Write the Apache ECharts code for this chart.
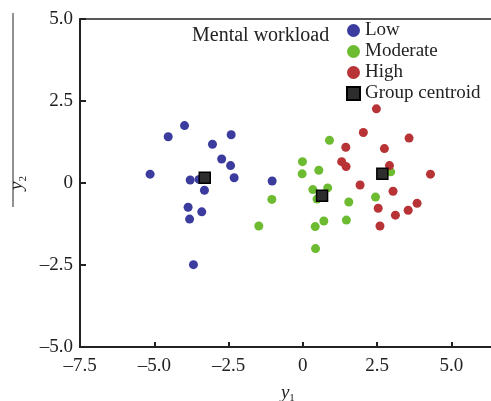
<!DOCTYPE html>
<html>
<head>
<meta charset="utf-8">
<script src="https://cdn.jsdelivr.net/npm/echarts@6/dist/echarts.min.js"></script>
<style>
html,body{margin:0;padding:0;background:#fff;}
#chart{width:491px;height:401px;}
</style>
</head>
<body>
<div id="chart"></div>
<script>
// values (y1, y2)
var lowPts = [[-5.14,0.27],[-4.53,1.41],[-3.98,1.75],[-3.04,1.18],[-2.41,1.47],[-2.73,0.73],
  [-2.43,0.53],[-2.31,0.16],[-3.79,0.09],[-3.49,0.11],[-3.31,-0.22],[-3.86,-0.74],
  [-3.81,-1.10],[-3.40,-0.88],[-3.68,-2.49],[-1.03,0.06]];
var moderatePts = [[0.90,1.30],[-0.01,0.65],[-0.02,0.28],[0.54,0.39],[0.34,-0.20],[0.84,-0.15],
  [0.48,-0.49],[-1.04,-0.50],[-1.48,-1.31],[1.55,-0.58],[2.45,-0.43],[0.71,-1.16],
  [0.42,-1.33],[1.47,-1.13],[0.43,-2.00],[2.96,0.34]];
var highPts = [[2.48,2.26],[2.04,1.54],[3.58,1.37],[1.45,1.09],[2.75,1.05],[1.31,0.65],
  [1.46,0.50],[2.92,0.53],[4.30,0.27],[1.93,-0.06],[3.04,-0.25],[2.54,-0.77],
  [3.12,-0.98],[3.55,-0.83],[3.85,-0.62],[2.60,-1.31]];
var centroids = [[-3.30,0.16],[0.65,-0.39],[2.68,0.28]];
var groupNames = ['Low','Moderate','High','Group centroid'];

var serif = '"Liberation Serif","DejaVu Serif",serif';
var chart = echarts.init(document.getElementById('chart'));

function dots(name, data, color){
  return {
    name: name, type: 'scatter', data: data,
    symbol: 'circle', symbolSize: 9,
    itemStyle: {color: color, opacity: 1}
  };
}
function tickFmt(v){ return v === 0 ? '0' : v.toFixed(1).replace('-', '\u2013'); }

chart.setOption({
  animation: false,
  backgroundColor: '#fff',
  grid: {left: 80, top: 19, width: 415.8, height: 328, show: true, outerBoundsMode: 'none',
    borderColor: '#222', borderWidth: 1.5, backgroundColor: 'transparent'},
  legend: {
    orient: 'vertical', left: 346, top: 21, itemGap: 2, padding: 0,
    itemWidth: 13, itemHeight: 13,
    data: [
      {name: groupNames[0], icon: 'circle'},
      {name: groupNames[1], icon: 'circle'},
      {name: groupNames[2], icon: 'circle'},
      {name: groupNames[3], icon: 'rect'}
    ],
    textStyle: {fontFamily: serif, fontSize: 19, lineHeight: 19, color: '#222'}
  },
  graphic: [
    {type: 'text', left: 192, top: 26,
      style: {text: 'Mental workload', font: '20px ' + serif, fill: '#222'}},
    {type: 'line', shape: {x1: 13, y1: 13, x2: 13, y2: 207},
      style: {stroke: '#222', lineWidth: 1}}
  ],
  xAxis: {
    type: 'value', min: -7.5, max: 6.5, interval: 2.5,
    name: '{i|y}{s|1}', nameLocation: 'middle', nameGap: 34,
    nameTextStyle: {rich: {
      i: {fontFamily: serif, fontStyle: 'italic', fontSize: 19, color: '#222'},
      s: {fontFamily: serif, fontSize: 11, color: '#222', verticalAlign: 'bottom', padding: [12,0,0,0]}
    }},
    axisLine: {onZero: false, lineStyle: {color: '#222', width: 2}},
    axisTick: {inside: true, length: 5, lineStyle: {color: '#222', width: 2}},
    axisLabel: {fontFamily: serif, fontSize: 19, color: '#222', margin: 10, showMaxLabel: false,
      formatter: tickFmt},
    splitLine: {show: false}
  },
  yAxis: {
    type: 'value', min: -5, max: 5, interval: 2.5,
    name: '{i|y}{s|2}', nameLocation: 'middle', nameGap: 50, nameRotate: 90,
    nameTextStyle: {rich: {
      i: {fontFamily: serif, fontStyle: 'italic', fontSize: 19, color: '#222'},
      s: {fontFamily: serif, fontSize: 11, color: '#222', verticalAlign: 'bottom', padding: [12,0,0,0]}
    }},
    axisLine: {onZero: false, lineStyle: {color: '#222', width: 2}},
    axisTick: {inside: true, length: 6, lineStyle: {color: '#222', width: 2}},
    axisLabel: {fontFamily: serif, fontSize: 19, color: '#222', margin: 7,
      formatter: tickFmt},
    splitLine: {show: false}
  },
  series: [
    dots(groupNames[0], lowPts, '#3b3c9e'),
    dots(groupNames[1], moderatePts, '#6cbb31'),
    dots(groupNames[2], highPts, '#b73335'),
    {
      name: groupNames[3], type: 'scatter', data: centroids, z: 5,
      symbol: 'rect', symbolSize: 11,
      itemStyle: {color: '#2d2d2d', borderColor: '#000', borderWidth: 1.5, opacity: 1}
    }
  ]
});
</script>
</body>
</html>
